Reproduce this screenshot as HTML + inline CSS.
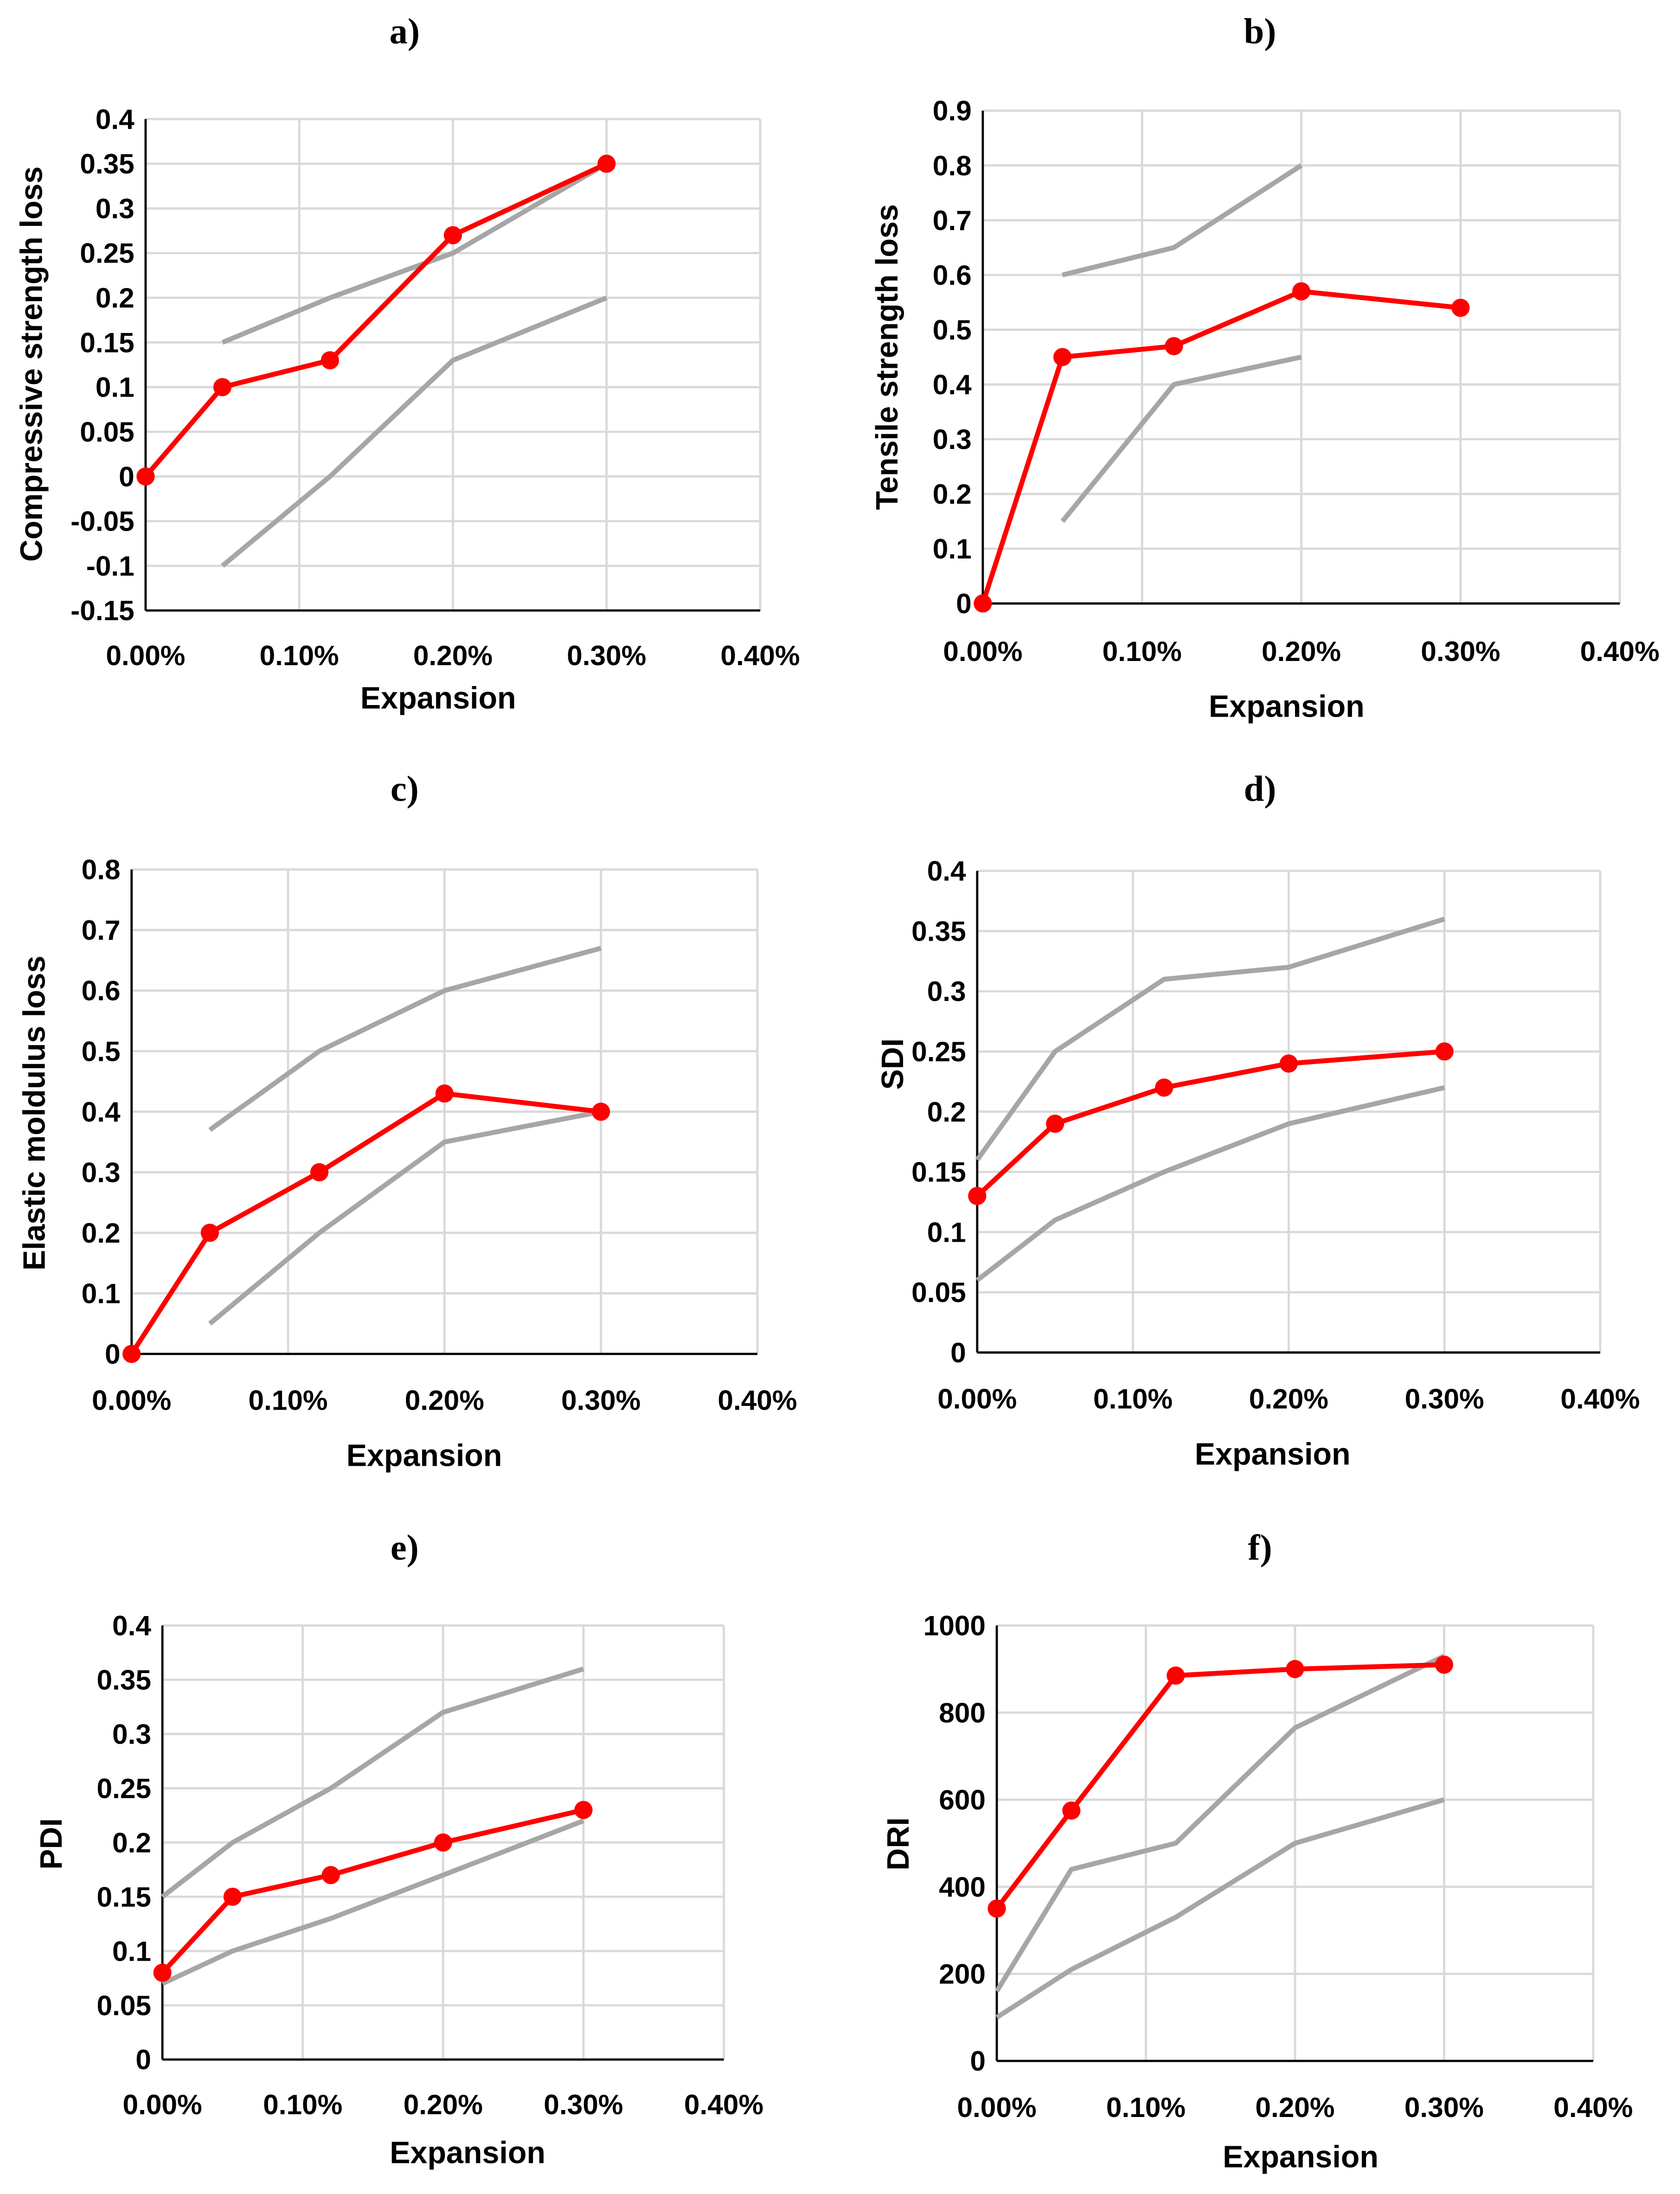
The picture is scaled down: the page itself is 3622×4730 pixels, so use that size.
<!DOCTYPE html>
<html><head><meta charset="utf-8"><style>
html,body{margin:0;padding:0;background:#fff}
svg{display:block}
text{font-family:"Liberation Sans",sans-serif;font-weight:bold;fill:#000}
.pt{font-family:"Liberation Serif",serif;font-size:26px}
</style></head><body>
<svg id="fig" width="3622" height="4730" viewBox="0 0 1200 1567" xmlns="http://www.w3.org/2000/svg"></svg>
<script>
// x categories (expansion %)
const xTicks = [0, 0.1, 0.2, 0.3, 0.4];
const xTickLabels = ["0.00%", "0.10%", "0.20%", "0.30%", "0.40%"];
// Panel a
const aX = [0, 0.05, 0.12, 0.2, 0.3];
const aRed = [0, 0.1, 0.13, 0.27, 0.35];
const aUpX = [0.05, 0.12, 0.2, 0.3];
const aUp = [0.15, 0.2, 0.25, 0.35];
const aLoX = [0.05, 0.12, 0.2, 0.3];
const aLo = [-0.1, 0, 0.13, 0.2];
const aYTicks = [-0.15, -0.1, -0.05, 0, 0.05, 0.1, 0.15, 0.2, 0.25, 0.3, 0.35, 0.4];
// Panel b
const bX = [0, 0.05, 0.12, 0.2, 0.3];
const bRed = [0, 0.45, 0.47, 0.57, 0.54];
const bUpX = [0.05, 0.12, 0.2];
const bUp = [0.6, 0.65, 0.8];
const bLoX = [0.05, 0.12, 0.2];
const bLo = [0.15, 0.4, 0.45];
const bYTicks = [0, 0.1, 0.2, 0.3, 0.4, 0.5, 0.6, 0.7, 0.8, 0.9];
// Panel c
const cX = [0, 0.05, 0.12, 0.2, 0.3];
const cRed = [0, 0.2, 0.3, 0.43, 0.4];
const cUpX = [0.05, 0.12, 0.2, 0.3];
const cUp = [0.37, 0.5, 0.6, 0.67];
const cLoX = [0.05, 0.12, 0.2, 0.3];
const cLo = [0.05, 0.2, 0.35, 0.4];
const cYTicks = [0, 0.1, 0.2, 0.3, 0.4, 0.5, 0.6, 0.7, 0.8];
// Panel d
const dX = [0, 0.05, 0.12, 0.2, 0.3];
const dRed = [0.13, 0.19, 0.22, 0.24, 0.25];
const dUp = [0.16, 0.25, 0.31, 0.32, 0.36];
const dLo = [0.06, 0.11, 0.15, 0.19, 0.22];
const dYTicks = [0, 0.05, 0.1, 0.15, 0.2, 0.25, 0.3, 0.35, 0.4];
// Panel e
const eX = [0, 0.05, 0.12, 0.2, 0.3];
const eRed = [0.08, 0.15, 0.17, 0.2, 0.23];
const eUp = [0.15, 0.2, 0.25, 0.32, 0.36];
const eLo = [0.07, 0.1, 0.13, 0.17, 0.22];
const eYTicks = [0, 0.05, 0.1, 0.15, 0.2, 0.25, 0.3, 0.35, 0.4];
// Panel f
const fX = [0, 0.05, 0.12, 0.2, 0.3];
const fRed = [350, 575, 885, 900, 910];
const fUp = [160, 440, 500, 765, 930];
const fLo = [100, 210, 330, 500, 600];
const fYTicks = [0, 200, 400, 600, 800, 1000];

const NS = "http://www.w3.org/2000/svg";
const svg = document.getElementById("fig");
function mk(tag, attrs, parent, txt) {
  const e = document.createElementNS(NS, tag);
  for (const k in attrs) e.setAttribute(k, attrs[k]);
  if (txt !== undefined) e.textContent = txt;
  (parent || svg).appendChild(e);
  return e;
}
function panel(o) {
  const g = mk("g", {});
  
  
  const xs = v => o.x0 + (v / 0.4) * (o.x1 - o.x0);
  const ys = v => o.yb + (v - o.ymin) / (o.ymax - o.ymin) * (o.yt - o.yb);
  o.yTicks.forEach(t => {
    const l = mk("line", {x1: o.x0, x2: o.x1, y1: ys(t), y2: ys(t), stroke: "#d9d9d9", "stroke-width": 1.6}, g);
    
    
    const tx = mk("text", {x: o.x0 - 8, y: ys(t) + 7, "font-size": 20, "text-anchor": "end"}, g, String(t));
    
    
  });
  xTicks.forEach((t, i) => {
    if (t > 0) {
      const l = mk("line", {x1: xs(t), x2: xs(t), y1: o.yt, y2: o.yb, stroke: "#d9d9d9", "stroke-width": 1.6}, g);
      
      
    }
    const tx = mk("text", {x: xs(t), y: o.xty, "font-size": 20, "text-anchor": "middle"}, g, xTickLabels[i]);
    
    
  });
  const ax = mk("line", {x1: o.x0, x2: o.x0, y1: o.yt, y2: o.yb, stroke: "#000", "stroke-width": 1.6}, g);
  
  
  const bx = mk("line", {x1: o.x0, x2: o.x1, y1: o.yb, y2: o.yb, stroke: "#000", "stroke-width": 1.6}, g);
  
  
  function line(xa, ya, col, name) {
    const p = mk("polyline", {points: xa.map((x, i) => xs(x) + "," + ys(ya[i])).join(" "), fill: "none", stroke: col, "stroke-width": 3.5, "stroke-linejoin": "round"}, g);
    
    
  }
  line(o.upX, o.up, "#a6a6a6", "upper-bound-line");
  line(o.loX, o.lo, "#a6a6a6", "lower-bound-line");
  line(o.rx, o.red, "#ff0000", "measured-line");
  o.rx.forEach((x, i) => {
    const c = mk("circle", {cx: xs(x), cy: ys(o.red[i]), r: 6.5, fill: "#ff0000"}, g);
    
    
  });
  const t = mk("text", {class: "pt", x: o.ptx, y: o.pty, "text-anchor": "middle"}, g, o.id + ")");
  
  
  const xt = mk("text", {x: o.xtx, y: o.xtt, "font-size": 22, "text-anchor": "middle"}, g, "Expansion");
  
  
  const yt = mk("text", {x: 0, y: 0, "font-size": 22, "text-anchor": "middle", transform: "translate(" + o.ytx + "," + o.yty + ") rotate(-90)"}, g, o.ytitle);
  
  
}
panel({id: "a", x0: 104, x1: 543, yt: 85, yb: 436, ymin: -0.15, ymax: 0.4, yTicks: aYTicks, rx: aX, red: aRed, upX: aUpX, up: aUp, loX: aLoX, lo: aLo, xty: 475, xtt: 506, xtx: 313, ytitle: "Compressive strength loss", ytx: 30, yty: 260, ptx: 289, pty: 31});
panel({id: "b", x0: 702, x1: 1157, yt: 79, yb: 431, ymin: 0, ymax: 0.9, yTicks: bYTicks, rx: bX, red: bRed, upX: bUpX, up: bUp, loX: bLoX, lo: bLo, xty: 472, xtt: 512, xtx: 919, ytitle: "Tensile strength loss", ytx: 641, yty: 255, ptx: 900, pty: 31});
panel({id: "c", x0: 94, x1: 541, yt: 621, yb: 967, ymin: 0, ymax: 0.8, yTicks: cYTicks, rx: cX, red: cRed, upX: cUpX, up: cUp, loX: cLoX, lo: cLo, xty: 1007, xtt: 1047, xtx: 303, ytitle: "Elastic moldulus loss", ytx: 32, yty: 795, ptx: 289, pty: 572});
panel({id: "d", x0: 698, x1: 1143, yt: 622, yb: 966, ymin: 0, ymax: 0.4, yTicks: dYTicks, rx: dX, red: dRed, upX: dX, up: dUp, loX: dX, lo: dLo, xty: 1006, xtt: 1046, xtx: 909, ytitle: "SDI", ytx: 645, yty: 760, ptx: 900, pty: 572});
panel({id: "e", x0: 116, x1: 517, yt: 1161, yb: 1471, ymin: 0, ymax: 0.4, yTicks: eYTicks, rx: eX, red: eRed, upX: eX, up: eUp, loX: eX, lo: eLo, xty: 1510, xtt: 1545, xtx: 334, ytitle: "PDI", ytx: 44, yty: 1317, ptx: 289, pty: 1114});
panel({id: "f", x0: 712, x1: 1138, yt: 1161, yb: 1472, ymin: 0, ymax: 1000, yTicks: fYTicks, rx: fX, red: fRed, upX: fX, up: fUp, loX: fX, lo: fLo, xty: 1512, xtt: 1548, xtx: 929, ytitle: "DRI", ytx: 649, yty: 1317, ptx: 900, pty: 1114});
</script>
</body></html>
